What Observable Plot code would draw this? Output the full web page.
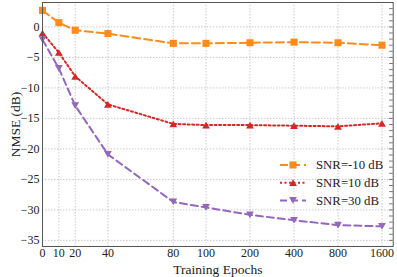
<!DOCTYPE html>
<html><head><meta charset="utf-8">
<script src="https://cdn.jsdelivr.net/npm/d3@7"></script>
<script src="https://cdn.jsdelivr.net/npm/@observablehq/plot@0.6"></script>
<style>
body{margin:0;background:#fff;}
#wrap{position:relative;width:397px;height:277px;font-family:"Liberation Serif","Times New Roman",serif;}
#wrap svg text{font-family:"Liberation Serif","Times New Roman",serif;}
#legend{position:absolute;left:0;top:0;}
</style></head>
<body><div id="wrap"></div>
<script>
const epochs = [0, 10, 20, 40, 80, 100, 200, 400, 800, 1600];
const snrM10 = [2.7, 0.7, -0.55, -1.1, -2.7, -2.7, -2.6, -2.5, -2.6, -3.0];
const snr10 = [-1.0, -4.2, -8.1, -12.7, -15.9, -16.1, -16.1, -16.2, -16.3, -15.8];
const snr30 = [-2.1, -6.8, -12.9, -20.9, -28.7, -29.6, -30.8, -31.7, -32.5, -32.7];
const seriesNames = ["SNR=-10 dB", "SNR=10 dB", "SNR=30 dB"];
const xTicks = [0, 10, 20, 40, 80, 100, 200, 400, 800, 1600];
const yTicks = [0, -5, -10, -15, -20, -25, -30, -35];
const yMinor = d3.range(-36, 5, 1);

const colors = ["#ff8c1a", "#d62728", "#9467bd"];
const dashes = ["8,4", "2,2.5", "7,4"];
const triDown = {draw(ctx, size){ const s = Math.sqrt(size)*1.1; ctx.moveTo(-s/2,-s*0.43); ctx.lineTo(s/2,-s*0.43); ctx.lineTo(0,s*0.43); ctx.closePath(); }};
const triUp = {draw(ctx, size){ const s = Math.sqrt(size)*1.1; ctx.moveTo(-s/2,s*0.43); ctx.lineTo(s/2,s*0.43); ctx.lineTo(0,-s*0.43); ctx.closePath(); }};
const symbols = ["square", triUp, triDown];

const allSeries = [snrM10, snr10, snr30];
const data = allSeries.flatMap((vals, i) => vals.map((v, j) => ({epoch: epochs[j], nmse: v, s: i})));

const W = 397, H = 277, mL = 42, mR = 4.3, mT = 2, mB = 31;
// piecewise x scale: linear up to 100, equal spacing per doubling beyond
const xDomain = [0, 100, 200, 400, 800, 1600, 1894];
const x0 = mL, x100 = 205.5, step = 44;
const xRange = [x0, x100, x100+step, x100+2*step, x100+3*step, x100+4*step, W - mR];

const marks = [
  Plot.gridX(xTicks, {stroke: "#b4b4b4", strokeOpacity: 1, strokeDasharray: "1.5,1.5", strokeWidth: 0.7}),
  Plot.gridY(yTicks, {stroke: "#b4b4b4", strokeOpacity: 1, strokeDasharray: "1.5,1.5", strokeWidth: 0.7}),
  Plot.ruleY(yMinor, {y: d => d, x1: 1894, x2: 1800, stroke: "#555", strokeWidth: 0.8}),
];
allSeries.forEach((vals, i) => {
  const d = data.filter(r => r.s === i);
  marks.push(Plot.line(d, {x: "epoch", y: "nmse", stroke: colors[i], strokeWidth: 2, strokeDasharray: dashes[i]}));
  marks.push(Plot.dot(d, {x: "epoch", y: "nmse", fill: colors[i], stroke: "none", symbol: symbols[i], r: 4}));
});
marks.push(Plot.frame({stroke: "#555", strokeWidth: 1}));
marks.push(Plot.axisX(xTicks, {tickSize: 0, tickPadding: 2, fontSize: 12, label: "Training Epochs", labelAnchor: "center", labelArrow: false, labelOffset: 27, tickFormat: d => String(d)}));
marks.push(Plot.axisY(yTicks, {tickSize: 0, tickPadding: 3, fontSize: 12, label: "NMSE (dB)", labelAnchor: "center", labelArrow: false, labelOffset: 32}));

const chart = Plot.plot({
  width: W, height: H,
  marginLeft: mL, marginRight: mR, marginTop: mT, marginBottom: mB,
  style: {fontFamily: '"Liberation Serif","Times New Roman",serif', fontSize: "12px", color: "#222", background: "#fff"},
  x: {type: "linear", domain: xDomain, range: xRange},
  y: {domain: [-36, 4]},
  marks
});
chart.querySelectorAll('[aria-label="x-axis label"] text, [aria-label="y-axis label"] text').forEach(t => t.setAttribute("font-size", "13.5"));
const wrap = document.getElementById("wrap");
wrap.appendChild(chart);

// legend overlay
const leg = d3.select(wrap).append("svg").attr("id", "legend").attr("width", W).attr("height", H);
const lx = 280, ly = 165, lh = 17.7;
seriesNames.forEach((name, i) => {
  const g = leg.append("g").attr("transform", `translate(${lx},${ly + i*lh})`);
  g.append("line").attr("x1", 0).attr("x2", 26).attr("y1", 0).attr("y2", 0)
    .attr("stroke", colors[i]).attr("stroke-width", 2).attr("stroke-dasharray", dashes[i]);
  g.append("path").attr("transform", "translate(13,0)")
    .attr("d", d3.symbol(i === 0 ? d3.symbolSquare : symbols[i], 50)())
    .attr("fill", colors[i]);
  g.append("text").attr("x", 36).attr("y", 0).attr("dy", "0.35em")
    .attr("font-size", 12.8).attr("fill", "#222").text(name);
});
</script></body></html>
